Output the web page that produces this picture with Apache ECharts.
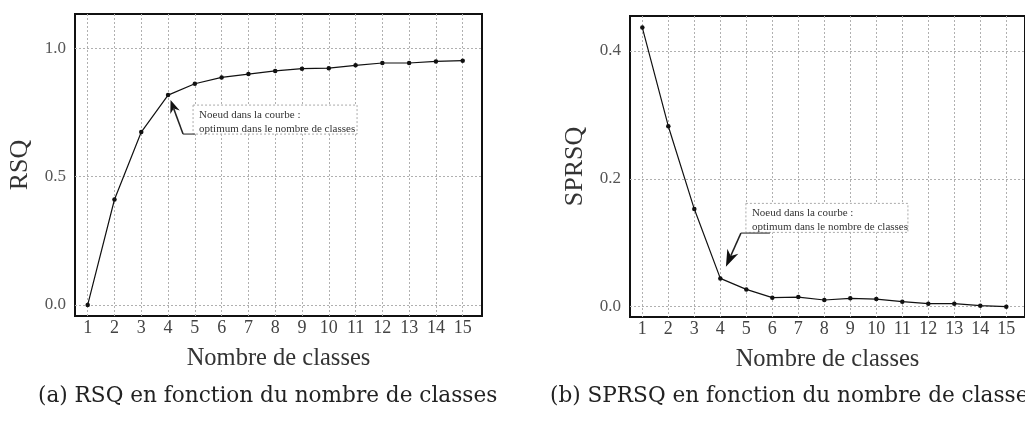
<!DOCTYPE html>
<html>
<head>
<meta charset="utf-8">
<script src="https://cdn.jsdelivr.net/npm/echarts@6/dist/echarts.min.js"></script>
<style>
html,body{margin:0;padding:0;background:#fff;}
#c{width:1025px;height:421px;}
</style>
</head>
<body>
<div id="c"></div>
<script>
const classes = [1,2,3,4,5,6,7,8,9,10,11,12,13,14,15];
const rsq = [0, 0.411, 0.674, 0.818, 0.862, 0.887, 0.900, 0.912, 0.921, 0.923, 0.934, 0.943, 0.943, 0.949, 0.952];
const sprsq = [0.4366, 0.2823, 0.1527, 0.0443, 0.0271, 0.0141, 0.0150, 0.0105, 0.0131, 0.0120, 0.0078, 0.0047, 0.0047, 0.0016, 0.0000];
const rsqTicks = [0, 0.5, 1.0];
const sprsqTicks = [0, 0.2, 0.4];
const xTitle = 'Nombre de classes';
const noteLines = ['Noeud dans la courbe :', 'optimum dans le nombre de classes'];
const captionA = '(a) RSQ en fonction du nombre de classes';
const captionB = '(b) SPRSQ en fonction du nombre de classes';

const serif = 'Liberation Serif';
const txt = '#3a3a3a';
const gridStyle = {color:'#b0b0b0', type:[2,2], width:1};

function xAxisDef(idx){
  return {
    type:'value', gridIndex:idx, min:0.526, max:15.72,
    name:xTitle, nameLocation:'middle', nameGap:30,
    nameTextStyle:{fontFamily:serif, fontSize:24.5, color:'#333'},
    axisLine:{show:false}, axisTick:{show:false, customValues:classes},
    axisLabel:{customValues:classes, fontFamily:serif, fontSize:18, color:'#444', margin:3},
    splitLine:{show:true, lineStyle:gridStyle, customValues:classes}
  };
}
function yAxisDef(idx, min, max, ticks, name){
  return {
    type:'value', gridIndex:idx, min:min, max:max,
    name:name, nameLocation:'middle', nameGap:42,
    nameTextStyle:{fontFamily:serif, fontSize:26, color:'#333'},
    axisLine:{show:false}, axisTick:{show:false, customValues:ticks},
    axisLabel:{customValues:ticks, fontFamily:serif, fontSize:17, color:'#555', margin:9,
      formatter:v=>v.toFixed(1)},
    splitLine:{show:true, lineStyle:gridStyle, customValues:ticks}
  };
}

const chart = echarts.init(document.getElementById('c'), null, {renderer:'canvas'});
const option = {
  animation:false,
  backgroundColor:'#fff',
  grid:[
    {left:75, right:543, top:14, bottom:105, show:true, borderColor:'#111', borderWidth:2, backgroundColor:'transparent'},
    {left:630, right:-11, top:16, bottom:104, show:true, borderColor:'#111', borderWidth:2, backgroundColor:'transparent'}
  ],
  xAxis:[xAxisDef(0), xAxisDef(1)],
  yAxis:[yAxisDef(0, -0.043, 1.134, rsqTicks, 'RSQ'), yAxisDef(1, -0.0161, 0.4547, sprsqTicks, 'SPRSQ')],
  title:[
    {text:captionA, left:33, top:380, textStyle:{fontFamily:'DejaVu Serif', fontSize:21.6, fontWeight:'normal', color:'#222'}},
    {text:captionB, left:545, top:380, textStyle:{fontFamily:'DejaVu Serif', fontSize:21.6, fontWeight:'normal', color:'#222'}}
  ],
  series:[
    {type:'line', xAxisIndex:0, yAxisIndex:0, data:classes.map((c,i)=>[c, rsq[i]]),
     symbol:'circle', symbolSize:4.5, itemStyle:{color:'#111'}, lineStyle:{color:'#111', width:1.2}},
    {type:'line', xAxisIndex:1, yAxisIndex:1, data:classes.map((c,i)=>[c, sprsq[i]]),
     symbol:'circle', symbolSize:4.5, itemStyle:{color:'#111'}, lineStyle:{color:'#111', width:1.2}}
  ]
};
chart.setOption(option);

function annotation(P, box, elbow, start, tip, hl, hw){
  const els = [];
  els.push({type:'rect', shape:{x:P[0]+box[0], y:P[1]+box[1], width:box[2], height:box[3]},
    style:{fill:'#fff', stroke:'#aaa', lineWidth:1, lineDash:[2,2]}, z:50});
  els.push({type:'text', x:P[0]+box[0]+6, y:P[1]+box[1]+3,
    style:{text:noteLines.join('\n'), fontFamily:serif, fontSize:11, lineHeight:14, fill:'#333'}, z:51});
  const s=[P[0]+start[0],P[1]+start[1]], e=[P[0]+elbow[0],P[1]+elbow[1]], t=[P[0]+tip[0],P[1]+tip[1]];
  els.push({type:'polyline', shape:{points:[s,e]}, style:{stroke:'#666', lineWidth:1.5}, z:52});
  const dx=t[0]-e[0], dy=t[1]-e[1], L=Math.hypot(dx,dy), ux=dx/L, uy=dy/L, px=-uy, py=ux;
  const base=[t[0]-ux*hl, t[1]-uy*hl];
  const notch=[t[0]-ux*hl*0.7, t[1]-uy*hl*0.7];
  els.push({type:'polyline', shape:{points:[e, notch]}, style:{stroke:'#222', lineWidth:1.5}, z:52});
  els.push({type:'polygon', shape:{points:[t,[base[0]+px*hw, base[1]+py*hw], notch,[base[0]-px*hw, base[1]-py*hw]]},
    style:{fill:'#111'}, z:53});
  return els;
}
const PA = chart.convertToPixel({gridIndex:0}, [classes[3], rsq[3]]);
const PB = chart.convertToPixel({gridIndex:1}, [classes[3], sprsq[3]]);
chart.setOption({graphic:[
  ...annotation(PA, [25,10,164,29], [15,39], [27,39], [2.5,5], 13, 5),
  ...annotation(PB, [25.6,-75,162,29], [20.6,-45.3], [49.6,-45.3], [5.6,-11.6], 17, 6)
]});
</script>
</body>
</html>
